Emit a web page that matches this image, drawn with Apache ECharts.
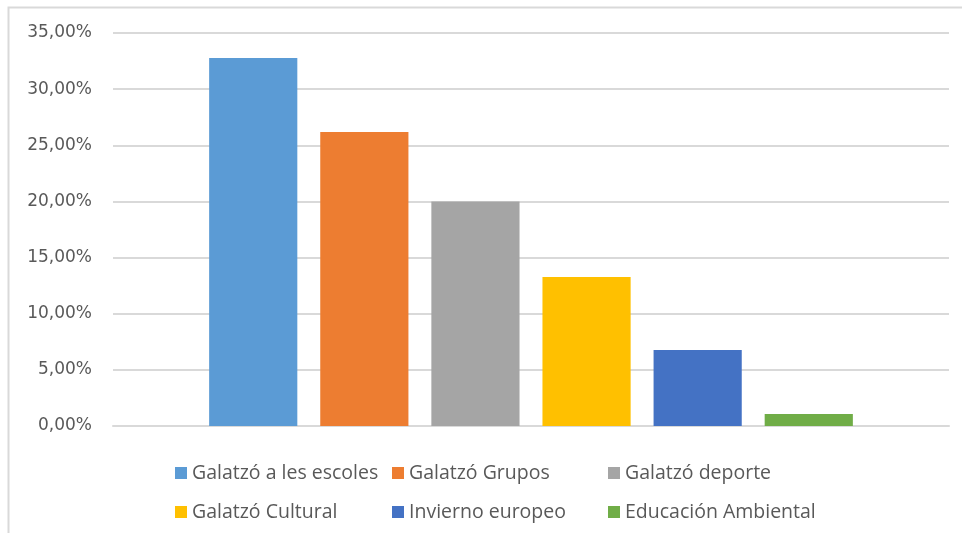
<!DOCTYPE html>
<html>
<head>
<meta charset="utf-8">
<style>
  html, body { margin: 0; padding: 0; background: #fff; }
  #chart { width: 962px; height: 533px; }
</style>
<script src="https://cdn.jsdelivr.net/npm/echarts@6/dist/echarts.min.js"></script>
</head>
<body>
<div id="chart"></div>
<script>
// datos (porcentaje)
const seriesNames = ['Galatzó a les escoles', 'Galatzó Grupos', 'Galatzó deporte',
  'Galatzó Cultural', 'Invierno europeo', 'Educación Ambiental']
const seriesValues = [32.77, 26.18, 20.0, 13.27, 6.77, 1.07]
const seriesColors = ['#5B9BD5', '#ED7D31', '#A5A5A5', '#FFC000', '#4472C4', '#70AD47']
const categories = ['']
const yMin = 0
const yMax = 35
const yStep = 5

const chart = echarts.init(document.getElementById('chart'))

// leyenda en dos filas de tres columnas, como en Excel
const legendCols = [175, 392, 608]
const legendRows = [463, 502]
const legendItems = seriesNames.map((name, i) => ({
  data: [name],
  left: legendCols[i % 3],
  top: legendRows[Math.floor(i / 3)],
  icon: 'rect',
  itemWidth: 12,
  itemHeight: 12,
  padding: 0,
  textStyle: {
    fontFamily: "'Open Sans', sans-serif",
    fontSize: 19.5,
    color: '#595959',
    lineHeight: 20
  }
}))

const option = {
  animation: false,
  backgroundColor: '#fff',
  graphic: [{
    type: 'rect',
    shape: { x: 8.5, y: 7.5, width: 1000, height: 600 },
    style: { fill: 'none', stroke: '#d9d9d9', lineWidth: 2 },
    silent: true
  }],
  legend: legendItems,
  grid: {
    left: 113,
    right: 13,
    top: 33,
    bottom: 107,
    containLabel: false
  },
  xAxis: {
    type: 'category',
    data: categories,
    axisLine: { show: true, lineStyle: { color: '#d9d9d9', width: 2 } },
    axisTick: { show: false },
    axisLabel: { show: false }
  },
  yAxis: {
    type: 'value',
    min: yMin,
    max: yMax,
    interval: yStep,
    axisLine: { show: false },
    axisTick: { show: false },
    axisLabel: {
      margin: 21,
      fontFamily: 'DejaVu Sans',
      fontSize: 17,
      color: '#595959',
      formatter: v => v.toFixed(2).replace('.', ',') + '%'
    },
    splitLine: { lineStyle: { color: '#d9d9d9', width: 2 } }
  },
  series: seriesNames.map((name, i) => ({
    name: name,
    type: 'bar',
    data: [seriesValues[i]],
    itemStyle: { color: seriesColors[i] },
    barGap: '26%',
    barCategoryGap: '23%'
  }))
}

chart.setOption(option)
</script>
</body>
</html>
